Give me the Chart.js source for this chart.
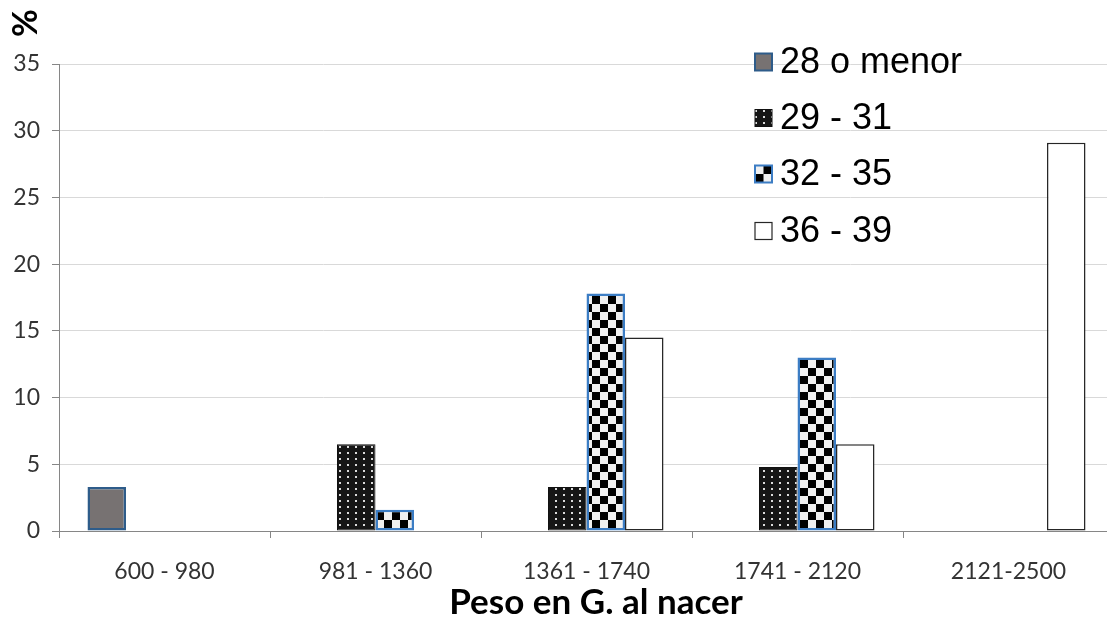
<!DOCTYPE html>
<html>
<head>
<meta charset="utf-8">
<script src="https://cdn.jsdelivr.net/npm/chart.js@4.4.1/dist/chart.umd.min.js"></script>
<style>
  html, body { margin: 0; padding: 0; overflow: hidden; background: #fff; }
  #wrap { position: relative; width: 1114px; height: 625px; }
  canvas { display: block; }
</style>
</head>
<body>
<div id="wrap"><canvas id="c" width="1114" height="625" style="width:1114px;height:625px"></canvas></div>
<script>
// Birth-weight bins (g) and gestational-age groups (weeks)
const categories = ['600 - 980', '981 - 1360', '1361 - 1740', '1741 - 2120', '2121-2500'];
const seriesNames = ['28 o menor', '29 - 31', '32 - 35', '36 - 39'];
const g28 = [3.3, 0, 0, 0, 0];
const g29 = [0, 6.5, 3.3, 4.8, 0];
const g32 = [0, 1.6, 17.8, 13.0, 0];
const g36 = [0, 0, 14.5, 6.5, 29.1];
const yTicks = [0, 5, 10, 15, 20, 25, 30, 35];
const yTitle = '%';
const xTitle = 'Peso en G. al nacer';

const canvas = document.getElementById('c');
const ctx = canvas.getContext('2d');

// Fill textures
function checkerPattern(cell) {
  const t = document.createElement('canvas');
  t.width = t.height = cell * 2;
  const c = t.getContext('2d');
  c.fillStyle = '#f0f0f0';
  c.fillRect(0, 0, cell * 2, cell * 2);
  c.fillStyle = '#000';
  c.fillRect(cell, 0, cell, cell);
  c.fillRect(0, cell, cell, cell);
  return ctx.createPattern(t, 'repeat');
}
function dotPattern() {
  const t = document.createElement('canvas');
  t.width = 8; t.height = 6;
  const c = t.getContext('2d');
  c.fillStyle = '#161616';
  c.fillRect(0, 0, 8, 6);
  c.fillStyle = '#dcdcdc';
  c.fillRect(3, 2, 2, 2);
  return ctx.createPattern(t, 'repeat');
}
const checker = checkerPattern(8);
const dots = dotPattern();

const styles = [
  { fill: '#777272', border: '#2e5c8a', width: 2.5 },
  { fill: dots, border: '#111111', width: 1 },
  { fill: checker, border: '#3c7dc4', width: 2.5 },
  { fill: '#ffffff', border: '#262626', width: 1.5 }
];
const values = [g28, g29, g32, g36];

const datasets = values.map((vals, i) => ({
  label: seriesNames[i],
  data: vals,
  backgroundColor: styles[i].fill,
  borderColor: styles[i].border,
  borderWidth: c => (c.raw ? styles[i].width : 0),
  borderSkipped: false,
  categoryPercentage: 0.73,
  barPercentage: 1.0
}));

// Legend inside the plot area, plus the two axis titles
const decorations = {
  id: 'decorations',
  afterDraw(chart) {
    const g = chart.ctx;
    g.save();
    // "%" rotated at the top-left corner
    g.fillStyle = '#000';
    g.font = 'bold 34px Lato';
    g.textAlign = 'center';
    g.textBaseline = 'middle';
    g.translate(26, 23);
    g.rotate(-Math.PI / 2);
    g.fillText(yTitle, 0, 0);
    g.setTransform(1, 0, 0, 1, 0, 0);

    // x-axis title
    g.font = 'bold 35px Lato';
    g.fillStyle = '#000';
    g.fillText(xTitle, 596, 603);

    // legend
    const bx = 755, box = 17, rows = [62, 118, 174, 231];
    g.font = '36px "Liberation Sans"';
    g.textAlign = 'left';
    g.textBaseline = 'middle';
    seriesNames.forEach((name, i) => {
      const y = rows[i] - box / 2;
      const s = styles[i];
      if (i === 2) {
        const h = box / 2;
        g.fillStyle = '#f0f0f0';
        g.fillRect(bx, y, box, box);
        g.fillStyle = '#000';
        g.fillRect(bx + h, y, h, h);
        g.fillRect(bx, y + h, h, h);
      } else {
        g.fillStyle = s.fill;
        g.fillRect(bx, y, box, box);
      }
      g.lineWidth = i === 1 ? 1 : (i === 3 ? 1.2 : 2);
      g.strokeStyle = s.border;
      g.strokeRect(bx, y, box, box);
      g.fillStyle = '#000';
      g.fillText(name, bx + 25, rows[i] + 1);
    });
    g.restore();
  }
};

new Chart(ctx, {
  type: 'bar',
  data: { labels: categories, datasets },
  plugins: [decorations],
  options: {
    responsive: false,
    animation: false,
    layout: { padding: { top: 64, right: 0, left: 0, bottom: 0 } },
    plugins: { legend: { display: false }, tooltip: { enabled: false } },
    scales: {
      x: {
        afterFit(s) { s.height = 94; },
        grid: { drawOnChartArea: false, drawTicks: true, tickLength: 7, offset: true, color: '#868686', lineWidth: 1 },
        border: { color: '#868686', width: 1 },
        ticks: { color: '#333333', font: { family: 'Lato', size: 23 }, padding: 20, maxRotation: 0 }
      },
      y: {
        min: 0, max: 35,
        afterFit(s) { s.width = 59; },
        afterBuildTicks(s) { s.ticks = yTicks.map(v => ({ value: v })); },
        grid: { color: '#d9d9d9', lineWidth: 1, tickLength: 7, tickColor: '#868686', drawTicks: true },
        border: { color: '#868686', width: 1 },
        ticks: { color: '#333333', font: { family: 'Lato', size: 23 }, padding: 12 }
      }
    }
  }
});
</script>
</body>
</html>
